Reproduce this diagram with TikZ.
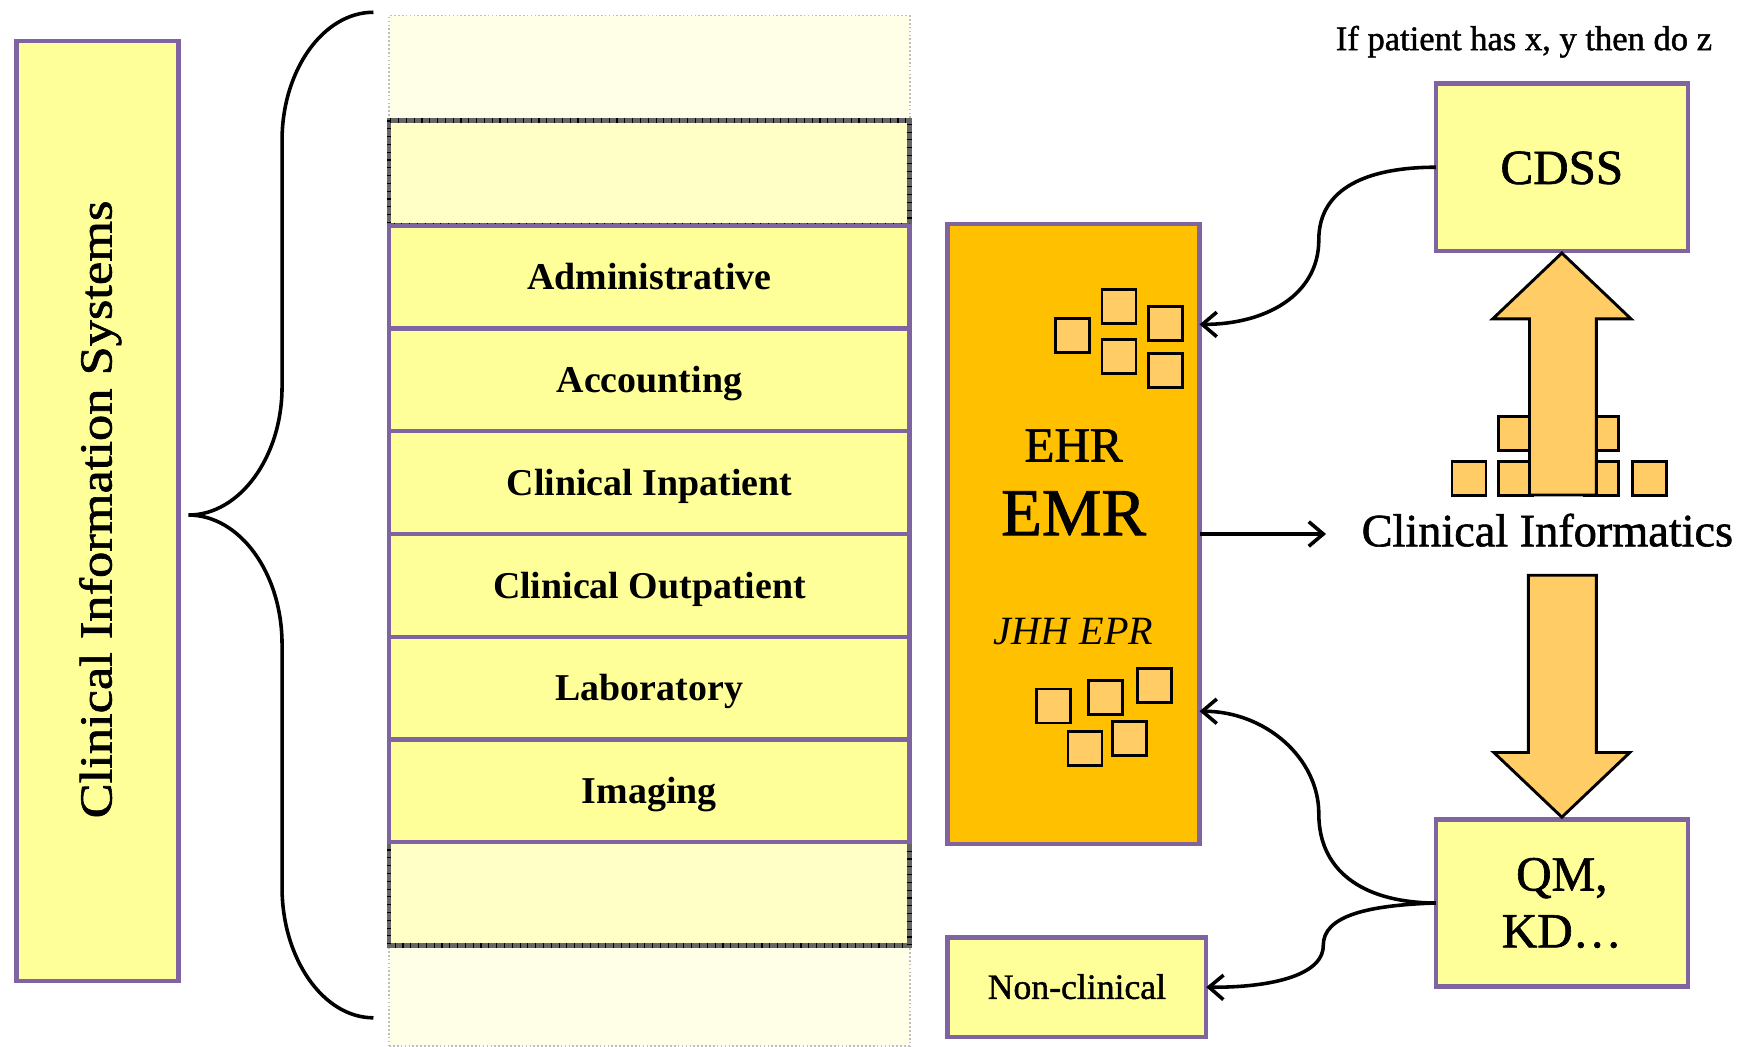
\documentclass[tikz,border=0pt]{standalone}
\usepackage{fontspec}
\setmainfont{Liberation Serif}
\newfontfamily\heavyserif[FakeBold=1.3]{Liberation Serif}
\usetikzlibrary{arrows.meta,calc}

\definecolor{boxyellow}{HTML}{FFFF99}
\definecolor{boxpurple}{HTML}{8064A2}
\definecolor{emrorange}{HTML}{FFC000}
\definecolor{chiporange}{HTML}{FFCC66}
\definecolor{paleyellow}{HTML}{FFFFE8}
\definecolor{creamyellow}{HTML}{FFFFC6}

\newcommand{\fs}[1]{\fontsize{#1}{1.2\dimexpr#1pt\relax}\selectfont}

\tikzset{
  box/.style={draw=boxpurple, line width=4pt, fill=boxyellow, inner sep=0pt, outer sep=0pt},
  layerbox/.style={box, minimum width=467pt, minimum height=92.2pt,
    font=\fs{34}\bfseries, text height=23pt, text depth=0pt},
  fadebox/.style={draw=black!25, dotted, line width=1.5pt, fill=paleyellow,
    minimum width=467pt, inner sep=0pt, outer sep=0pt},
  darkbox/.style={draw=black!60, line width=4pt, fill=creamyellow,
    minimum width=467pt, inner sep=0pt, outer sep=0pt},
  darkticks/.style={draw=black, line width=4pt, dash pattern=on 1pt off 6pt},
  chip/.style={draw=black, line width=2.6pt, fill=chiporange},
  blockarrow/.style={draw=black, line width=2.6pt, fill=chiporange, line join=miter},
  bracepath/.style={draw=black, line width=3.2pt},
  conn/.style={draw=black, line width=3.2pt, -{Straight Barb[length=13pt,width=22pt]}},
  plain/.style={inner sep=0pt, outer sep=0pt}
}

\begin{document}
\begin{tikzpicture}[x=1pt, y=-1pt]
\fill[white] (0,0) rectangle (1568,939);
\useasboundingbox (0,0) rectangle (1568,939);

% ---------- left title box ----------
\node[box, minimum width=145pt, minimum height=843pt] (cis) at (87.5,458.5) {};
\node[plain, rotate=90] (cistext) at (90,457)
  {\resizebox{554pt}{29pt}{\heavyserif Clinical Information Systems}};

% ---------- curly brace ----------
\draw[bracepath] (335,11) .. controls (290,11) and (253,63) .. (253,126)
  -- (253,347) .. controls (253,410) and (215,462) .. (169,462)
  .. controls (215,462) and (253,514) .. (253,578)
  -- (253,796) .. controls (253,860) and (290,913) .. (335,913);

% ---------- stack of system layers ----------
\node[fadebox, minimum height=94pt] (fadetop) at (582.5,61) {};
\node[fadebox, minimum height=90pt] (fadebot) at (582.5,893) {};
\node[darkbox, minimum height=94pt] (darktop) at (582.5,155) {};
\node[darkbox, minimum height=93pt] (darkbot) at (582.5,801.5) {};
\draw[darkticks] (darktop.north west) rectangle (darktop.south east);
\draw[darkticks] (darkbot.north west) rectangle (darkbot.south east);

\node[layerbox] (adm) at (582.5,248.6) {Administrative};
\node[layerbox] (acc) at (582.5,340.8) {Accounting};
\node[layerbox] (inp) at (582.5,432.9) {Clinical Inpatient};
\node[layerbox] (outp) at (582.5,525.1) {Clinical Outpatient};
\node[layerbox] (lab) at (582.5,617.3) {Laboratory};
\node[layerbox] (img) at (582.5,709.4) {Imaging};

% ---------- EMR block ----------
\node[box, fill=emrorange, minimum width=226pt, minimum height=556pt] (emr) at (963,479) {};
\node[plain, anchor=base, font=\fs{44}\heavyserif] (ehr) at (963,414) {EHR};
\node[plain, anchor=base, font=\fs{60}\heavyserif] (emrtext) at (963,480) {EMR};
\node[plain, anchor=base, font=\fs{36}\itshape] (jhh) at (963,578) {JHH EPR};

% data chips, upper group
\draw[chip] (947,286) rectangle ++(30.5,30.5);
\draw[chip] (988.5,260) rectangle ++(30.5,30.5);
\draw[chip] (1030.5,275) rectangle ++(30.5,30.5);
\draw[chip] (988.5,304.5) rectangle ++(30.5,30.5);
\draw[chip] (1030.5,317) rectangle ++(30.5,30.5);
% data chips, lower group
\draw[chip] (930,618) rectangle ++(30.5,30.5);
\draw[chip] (976.5,610.5) rectangle ++(30.5,30.5);
\draw[chip] (1020,599.5) rectangle ++(30.5,30.5);
\draw[chip] (958,656.5) rectangle ++(30.5,30.5);
\draw[chip] (998,647.5) rectangle ++(30.5,30.5);

% ---------- non-clinical ----------
\node[box, minimum width=232pt, minimum height=89pt, font=\fs{32}\heavyserif,
      text height=21pt, text depth=0pt] (nc) at (966,885.5) {Non-clinical};

% ---------- right column ----------
\node[plain, anchor=base, font=\fs{31}\heavyserif] (rule) at (1367,45) {If patient has x, y then do z};
\node[box, minimum width=226pt, minimum height=150pt, font=\fs{44}\heavyserif,
      text height=30pt, text depth=0pt] (cdss) at (1401,150) {CDSS};
\node[box, minimum width=226pt, minimum height=150pt, align=center,
      font=\fontsize{44}{51}\selectfont\heavyserif] (qm) at (1401,810) {QM,\\KD\ldots};
\node[plain, anchor=base, font=\fs{41.5}\heavyserif] (ci) at (1388,490) {Clinical Informatics};

% chips behind the upward arrow
\draw[chip] (1344,374) rectangle ++(30.5,30.5);
\draw[chip] (1421.5,374) rectangle ++(30.5,30.5);
\draw[chip] (1302.5,414) rectangle ++(30.5,30.5);
\draw[chip] (1344,414) rectangle ++(30.5,30.5);
\draw[chip] (1421.5,414) rectangle ++(30.5,30.5);
\draw[chip] (1464,414) rectangle ++(30.5,30.5);

% block arrows
\draw[blockarrow] (1372,444) -- (1372,286) -- (1339,286) -- (1401,227)
  -- (1463,286) -- (1432,286) -- (1432,444) -- cycle;
\draw[blockarrow] (1371,516) -- (1432,516) -- (1432,675) -- (1462,675)
  -- (1401,733) -- (1340,675) -- (1371,675) -- cycle;

% ---------- connectors ----------
\draw[conn] (emr.east) -- ($(emr.east -| ci.west)+(-32,0)$);
\draw[conn] (cdss.west) .. controls (1228,150) and (1183,168) .. (1183,215)
  .. controls (1183,265) and (1135,291) .. ($(emr.east)+(0,-188)$);
\draw[conn] (qm.west) .. controls (1228,810) and (1183,785) .. (1183,730)
  .. controls (1183,680) and (1135,638) .. ($(emr.east)+(0,159)$);
\draw[conn] (qm.west) .. controls (1225,812) and (1187,822) .. (1187,848)
  .. controls (1187,878) and (1130,886) .. (nc.east);
\end{tikzpicture}
\end{document}
